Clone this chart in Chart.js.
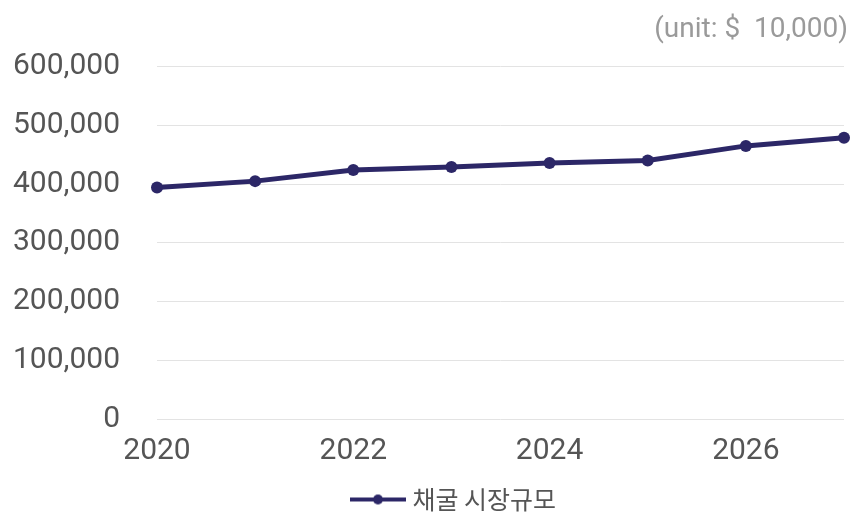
<!DOCTYPE html>
<html>
<head>
<meta charset="utf-8">
<script src="https://cdn.jsdelivr.net/npm/chart.js@4"></script>
<style>
  html, body { margin: 0; padding: 0; background: #fff; }
  #wrap { width: 850px; height: 522px; }
</style>
</head>
<body>
<div id="wrap"><canvas id="marketChart"></canvas></div>
<script>
// data
var years = [2020, 2021, 2022, 2023, 2024, 2025, 2026, 2027];
var marketSize = [394000, 405000, 424000, 429000, 436000, 440000, 465000, 479000];
var seriesName = '채굴 시장규모';
var unitNote = '(unit: $  10,000)';

var lineColor = '#2c2767';
var points = years.map(function (y, i) { return { x: y, y: marketSize[i] }; });

// legend marker: short line with a dot in the middle
var marker = document.createElement('canvas');
marker.width = 56; marker.height = 12;
var mc = marker.getContext('2d');
mc.strokeStyle = lineColor; mc.lineWidth = 4;
mc.beginPath(); mc.moveTo(0, 6); mc.lineTo(56, 6); mc.stroke();
mc.fillStyle = lineColor;
mc.beginPath(); mc.arc(28, 6, 5, 0, Math.PI * 2); mc.fill();

// the legend sits a bit right of centre in the original
var legendShift = {
    id: 'legendShift',
    afterLayout: function (chart) {
        chart.legend.left += 26;
        chart.legend.right += 26;
    }
};

var ctx = document.getElementById('marketChart').getContext('2d');
new Chart(ctx, {
    type: 'line',
    data: {
        datasets: [{
            label: seriesName,
            data: points,
            borderColor: lineColor,
            backgroundColor: lineColor,
            borderWidth: 5,
            pointRadius: 6,
            pointBorderWidth: 0,
            pointHoverRadius: 6,
            pointStyle: 'circle',
            tension: 0,
            clip: false
        }]
    },
    plugins: [legendShift],
    options: {
        responsive: true,
        maintainAspectRatio: false,
        animation: false,
        layout: { padding: { left: 12, right: 2, top: 0, bottom: 0 } },
        plugins: {
            title: {
                display: true,
                text: unitNote,
                align: 'end',
                color: '#9a9a9a',
                font: { family: 'Roboto', size: 28, weight: 'normal' },
                padding: { top: 13, bottom: 20 }
            },
            legend: {
                position: 'bottom',
                labels: {
                    color: '#555555',
                    font: { family: 'Noto Sans CJK KR', size: 25 },
                    usePointStyle: true,
                    pointStyle: marker,
                    pointStyleWidth: 44,
                    boxHeight: 12,
                    padding: 7
                }
            },
            tooltip: { enabled: false }
        },
        scales: {
            x: {
                type: 'linear',
                min: 2020,
                max: 2027,
                grid: { display: false, drawTicks: false },
                border: { display: false },
                afterBuildTicks: function (scale) {
                    scale.ticks = scale.ticks.filter(function (t) { return t.value % 2 === 0; });
                },
                afterFit: function (scale) { scale.height -= 3; },
                ticks: {
                    stepSize: 1,
                    color: '#555555',
                    font: { family: 'Roboto', size: 30 },
                    padding: 14,
                    maxRotation: 0,
                    callback: function (v) { return String(v); }
                }
            },
            y: {
                min: 0,
                max: 600000,
                grid: { color: '#e3e3e3', drawTicks: false },
                border: { display: false },
                afterFit: function (scale) { scale.width = 145; },
                ticks: {
                    stepSize: 100000,
                    color: '#555555',
                    font: { family: 'Roboto', size: 30 },
                    padding: 37,
                    callback: function (v) { return v.toLocaleString('en-US'); }
                }
            }
        }
    }
});
</script>
</body>
</html>
